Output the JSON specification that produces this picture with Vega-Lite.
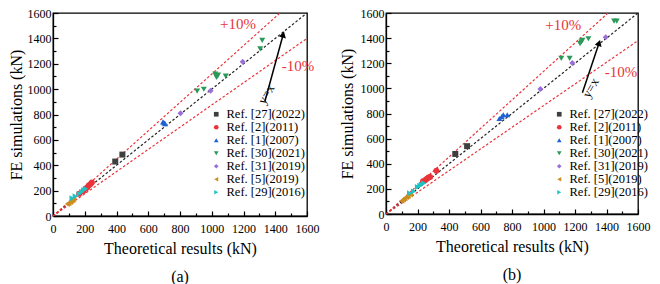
{
  "$schema": "https://vega.github.io/schema/vega-lite/v6.json",
  "padding": {"left": 7, "top": 6, "right": 3, "bottom": 3},
  "background": "white",
  "datasets": {
    "pts": [
      {"p": "a", "ref": "Ref. [27](2022)", "x": 392, "y": 429},
      {"p": "a", "ref": "Ref. [27](2022)", "x": 437, "y": 484},
      {"p": "a", "ref": "Ref. [2](2011)", "x": 165, "y": 175},
      {"p": "a", "ref": "Ref. [2](2011)", "x": 190, "y": 195},
      {"p": "a", "ref": "Ref. [2](2011)", "x": 205, "y": 215},
      {"p": "a", "ref": "Ref. [2](2011)", "x": 215, "y": 225},
      {"p": "a", "ref": "Ref. [2](2011)", "x": 225, "y": 240},
      {"p": "a", "ref": "Ref. [2](2011)", "x": 235, "y": 250},
      {"p": "a", "ref": "Ref. [2](2011)", "x": 245, "y": 265},
      {"p": "a", "ref": "Ref. [1](2007)", "x": 693, "y": 742},
      {"p": "a", "ref": "Ref. [1](2007)", "x": 700, "y": 735},
      {"p": "a", "ref": "Ref. [1](2007)", "x": 706, "y": 728},
      {"p": "a", "ref": "Ref. [30](2021)", "x": 908, "y": 984},
      {"p": "a", "ref": "Ref. [30](2021)", "x": 950, "y": 999},
      {"p": "a", "ref": "Ref. [30](2021)", "x": 1022, "y": 1118},
      {"p": "a", "ref": "Ref. [30](2021)", "x": 1031, "y": 1093},
      {"p": "a", "ref": "Ref. [30](2021)", "x": 1026, "y": 1105},
      {"p": "a", "ref": "Ref. [30](2021)", "x": 1040, "y": 1110},
      {"p": "a", "ref": "Ref. [30](2021)", "x": 1088, "y": 1103},
      {"p": "a", "ref": "Ref. [30](2021)", "x": 1305, "y": 1318},
      {"p": "a", "ref": "Ref. [30](2021)", "x": 1318, "y": 1385},
      {"p": "a", "ref": "Ref. [31](2019)", "x": 803, "y": 809},
      {"p": "a", "ref": "Ref. [31](2019)", "x": 993, "y": 987},
      {"p": "a", "ref": "Ref. [31](2019)", "x": 1195, "y": 1215},
      {"p": "a", "ref": "Ref. [5](2019)", "x": 90, "y": 95},
      {"p": "a", "ref": "Ref. [5](2019)", "x": 100, "y": 100},
      {"p": "a", "ref": "Ref. [5](2019)", "x": 110, "y": 110},
      {"p": "a", "ref": "Ref. [5](2019)", "x": 115, "y": 120},
      {"p": "a", "ref": "Ref. [5](2019)", "x": 125, "y": 125},
      {"p": "a", "ref": "Ref. [5](2019)", "x": 130, "y": 135},
      {"p": "a", "ref": "Ref. [29](2016)", "x": 120, "y": 140},
      {"p": "a", "ref": "Ref. [29](2016)", "x": 140, "y": 155},
      {"p": "a", "ref": "Ref. [29](2016)", "x": 165, "y": 175},
      {"p": "a", "ref": "Ref. [29](2016)", "x": 180, "y": 190},
      {"p": "a", "ref": "Ref. [29](2016)", "x": 195, "y": 205},
      {"p": "a", "ref": "Ref. [29](2016)", "x": 205, "y": 215},
      {"p": "b", "ref": "Ref. [27](2022)", "x": 440, "y": 478},
      {"p": "b", "ref": "Ref. [27](2022)", "x": 515, "y": 540},
      {"p": "b", "ref": "Ref. [2](2011)", "x": 235, "y": 260},
      {"p": "b", "ref": "Ref. [2](2011)", "x": 250, "y": 270},
      {"p": "b", "ref": "Ref. [2](2011)", "x": 260, "y": 280},
      {"p": "b", "ref": "Ref. [2](2011)", "x": 270, "y": 290},
      {"p": "b", "ref": "Ref. [2](2011)", "x": 280, "y": 295},
      {"p": "b", "ref": "Ref. [2](2011)", "x": 320, "y": 345},
      {"p": "b", "ref": "Ref. [1](2007)", "x": 720, "y": 760},
      {"p": "b", "ref": "Ref. [1](2007)", "x": 735, "y": 775},
      {"p": "b", "ref": "Ref. [1](2007)", "x": 745, "y": 790},
      {"p": "b", "ref": "Ref. [1](2007)", "x": 770, "y": 790},
      {"p": "b", "ref": "Ref. [30](2021)", "x": 1113, "y": 1239},
      {"p": "b", "ref": "Ref. [30](2021)", "x": 1166, "y": 1239},
      {"p": "b", "ref": "Ref. [30](2021)", "x": 1232, "y": 1356},
      {"p": "b", "ref": "Ref. [30](2021)", "x": 1240, "y": 1370},
      {"p": "b", "ref": "Ref. [30](2021)", "x": 1247, "y": 1382},
      {"p": "b", "ref": "Ref. [30](2021)", "x": 1285, "y": 1395},
      {"p": "b", "ref": "Ref. [30](2021)", "x": 1448, "y": 1536},
      {"p": "b", "ref": "Ref. [30](2021)", "x": 1465, "y": 1536},
      {"p": "b", "ref": "Ref. [31](2019)", "x": 980, "y": 995},
      {"p": "b", "ref": "Ref. [31](2019)", "x": 1183, "y": 1202},
      {"p": "b", "ref": "Ref. [31](2019)", "x": 1395, "y": 1406},
      {"p": "b", "ref": "Ref. [5](2019)", "x": 100, "y": 105},
      {"p": "b", "ref": "Ref. [5](2019)", "x": 110, "y": 115},
      {"p": "b", "ref": "Ref. [5](2019)", "x": 120, "y": 125},
      {"p": "b", "ref": "Ref. [5](2019)", "x": 130, "y": 135},
      {"p": "b", "ref": "Ref. [5](2019)", "x": 140, "y": 145},
      {"p": "b", "ref": "Ref. [5](2019)", "x": 155, "y": 155},
      {"p": "b", "ref": "Ref. [29](2016)", "x": 150, "y": 165},
      {"p": "b", "ref": "Ref. [29](2016)", "x": 175, "y": 180},
      {"p": "b", "ref": "Ref. [29](2016)", "x": 200, "y": 215},
      {"p": "b", "ref": "Ref. [29](2016)", "x": 215, "y": 225},
      {"p": "b", "ref": "Ref. [29](2016)", "x": 225, "y": 235},
      {"p": "b", "ref": "Ref. [29](2016)", "x": 240, "y": 245}
    ],
    "lines": [
      {"p": "a", "k": "eq", "x": 0, "y": 0}, {"p": "a", "k": "eq", "x": 1600, "y": 1600},
      {"p": "a", "k": "up", "x": 0, "y": 0}, {"p": "a", "k": "up", "x": 1430, "y": 1600},
      {"p": "a", "k": "lo", "x": 0, "y": 0}, {"p": "a", "k": "lo", "x": 1600, "y": 1400},
      {"p": "b", "k": "eq", "x": 0, "y": 0}, {"p": "b", "k": "eq", "x": 1600, "y": 1600},
      {"p": "b", "k": "up", "x": 0, "y": 0}, {"p": "b", "k": "up", "x": 1410, "y": 1600},
      {"p": "b", "k": "lo", "x": 0, "y": 0}, {"p": "b", "k": "lo", "x": 1600, "y": 1380}
    ],
    "notes": [
      {"p": "a", "t": "+10%", "x": 1166, "y": 1511},
      {"p": "a", "t": "-10%", "x": 1543, "y": 1180},
      {"p": "b", "t": "+10%", "x": 1126, "y": 1507},
      {"p": "b", "t": "-10%", "x": 1492, "y": 1133}
    ],
    "yx": [
      {"p": "a", "t": "y=x", "x": 1344, "y": 959},
      {"p": "b", "t": "y=x", "x": 1300, "y": 1003}
    ],
    "arrows": [
      {"p": "a", "x": 1335, "y": 905, "ex": 1450, "ey": 1430},
      {"p": "b", "x": 1247, "y": 966, "ex": 1353, "ey": 1361}
    ],
    "heads": [
      {"p": "a", "x": 1450, "y": 1430},
      {"p": "b", "x": 1353, "y": 1361}
    ]
  },
  "config": {
    "font": "Liberation Serif",
    "view": {"stroke": "black", "strokeWidth": 1.3},
    "axis": {
      "domainColor": "black", "domainWidth": 1.3, "tickColor": "black", "tickWidth": 1.2,
      "labelColor": "black", "titleColor": "black", "labelFont": "Liberation Serif", "titleFont": "Liberation Serif",
      "labelFontSize": 12, "titleFontSize": 16, "titleFontWeight": "normal", "grid": false,
      "labelOverlap": false, "labelFlush": false
    },
    "legend": {"labelFont": "Liberation Serif", "labelFontSize": 12.5, "labelColor": "black"},
    "title": {"font": "Liberation Serif", "fontSize": 16, "fontWeight": "normal", "color": "black"}
  },
  "resolve": {"scale": {"color": "independent", "shape": "independent"}, "legend": {"color": "independent", "shape": "independent"}},
  "spacing": 18,
  "hconcat": [
    {
      "width": 254, "height": 203,
      "title": {"text": "(a)", "orient": "bottom", "offset": 13},
      "encoding": {
        "x": {"field": "x", "type": "quantitative", "scale": {"domain": [0, 1600], "nice": false},
              "axis": {"title": "Theoretical results (kN)", "values": [0,100,200,300,400,500,600,700,800,900,1000,1100,1200,1300,1400,1500,1600],
                       "labelExpr": "datum.value % 200 === 0 ? datum.label : ''", "format": "d", "labelOverlap": false,
                       "tickSize": {"condition": {"test": "datum.value % 200 === 0", "value": -5}, "value": -3},
                       "labelPadding": 12, "titlePadding": 4}},
        "y": {"field": "y", "type": "quantitative", "scale": {"domain": [0, 1600], "nice": false},
              "axis": {"title": "FE simulations (kN)", "values": [0,100,200,300,400,500,600,700,800,900,1000,1100,1200,1300,1400,1500,1600],
                       "labelExpr": "datum.value % 200 === 0 ? datum.label : ''", "format": "d", "labelOverlap": false,
                       "tickSize": {"condition": {"test": "datum.value % 200 === 0", "value": -5}, "value": -3},
                       "labelPadding": 7, "titlePadding": 3}}
      },
      "layer": [
        {"data": {"name": "lines"}, "transform": [{"filter": "datum.p === 'a' && datum.k === 'eq'"}],
         "mark": {"type": "line", "color": "#222222", "strokeDash": [2.5, 2], "strokeWidth": 1.2}},
        {"data": {"name": "lines"}, "transform": [{"filter": "datum.p === 'a' && datum.k !== 'eq'"}],
         "mark": {"type": "line", "color": "#e8343a", "strokeDash": [2.5, 2], "strokeWidth": 1.2},
         "encoding": {"detail": {"field": "k"}}},
        {"data": {"name": "pts"}, "transform": [{"filter": "datum.p === 'a'"}],
         "mark": {"type": "point", "filled": true, "opacity": 1, "size": 36},
         "encoding": {
           "color": {"field": "ref", "type": "nominal",
             "scale": {"domain": ["Ref. [27](2022)", "Ref. [2](2011)", "Ref. [1](2007)", "Ref. [30](2021)", "Ref. [31](2019)", "Ref. [5](2019)", "Ref. [29](2016)"],
                       "range": ["#3f3f3f", "#e8343a", "#1f62d4", "#2b9a58", "#9a6fd8", "#c98f1f", "#1ec4c4"]},
             "legend": {"title": null, "orient": "none", "legendX": 157, "legendY": 95, "padding": 0, "rowPadding": 0, "symbolSize": 22, "labelOffset": 4}},
           "shape": {"field": "ref", "type": "nominal",
             "scale": {"domain": ["Ref. [27](2022)", "Ref. [2](2011)", "Ref. [1](2007)", "Ref. [30](2021)", "Ref. [31](2019)", "Ref. [5](2019)", "Ref. [29](2016)"],
                       "range": ["square", "circle", "triangle-up", "triangle-down", "diamond", "triangle-left", "triangle-right"]},
             "legend": {"title": null, "orient": "none", "legendX": 157, "legendY": 95, "padding": 0, "rowPadding": 0, "symbolSize": 22, "labelOffset": 4}}
         }},
        {"data": {"name": "notes"}, "transform": [{"filter": "datum.p === 'a'"}],
         "mark": {"type": "text", "color": "#e8343a", "fontSize": 15},
         "encoding": {"text": {"field": "t"}}},
        {"data": {"name": "yx"}, "transform": [{"filter": "datum.p === 'a'"}],
         "mark": {"type": "text", "color": "black", "fontSize": 13, "angle": 300},
         "encoding": {"text": {"field": "t"}}},
        {"data": {"name": "arrows"}, "transform": [{"filter": "datum.p === 'a'"}],
         "mark": {"type": "rule", "color": "black", "strokeWidth": 1.5},
         "encoding": {"x2": {"field": "ex"}, "y2": {"field": "ey"}}},
        {"data": {"name": "heads"}, "transform": [{"filter": "datum.p === 'a'"}],
         "mark": {"type": "point", "shape": "triangle-up", "filled": true, "color": "black", "opacity": 1, "size": 50, "angle": 15}}
      ]
    },
    {
      "width": 252, "height": 201,
      "title": {"text": "(b)", "orient": "bottom", "offset": 13},
      "encoding": {
        "x": {"field": "x", "type": "quantitative", "scale": {"domain": [0, 1600], "nice": false},
              "axis": {"title": "Theoretical results (kN)", "values": [0,100,200,300,400,500,600,700,800,900,1000,1100,1200,1300,1400,1500,1600],
                       "labelExpr": "datum.value % 200 === 0 ? datum.label : ''", "format": "d", "labelOverlap": false,
                       "tickSize": {"condition": {"test": "datum.value % 200 === 0", "value": -5}, "value": -3},
                       "labelPadding": 12, "titlePadding": 4}},
        "y": {"field": "y", "type": "quantitative", "scale": {"domain": [0, 1600], "nice": false},
              "axis": {"title": "FE simulations (kN)", "values": [0,100,200,300,400,500,600,700,800,900,1000,1100,1200,1300,1400,1500,1600],
                       "labelExpr": "datum.value % 200 === 0 ? datum.label : ''", "format": "d", "labelOverlap": false,
                       "tickSize": {"condition": {"test": "datum.value % 200 === 0", "value": -5}, "value": -3},
                       "labelPadding": 7, "titlePadding": 5}}
      },
      "layer": [
        {"data": {"name": "lines"}, "transform": [{"filter": "datum.p === 'b' && datum.k === 'eq'"}],
         "mark": {"type": "line", "color": "#222222", "strokeDash": [2.5, 2], "strokeWidth": 1.2}},
        {"data": {"name": "lines"}, "transform": [{"filter": "datum.p === 'b' && datum.k !== 'eq'"}],
         "mark": {"type": "line", "color": "#e8343a", "strokeDash": [2.5, 2], "strokeWidth": 1.2},
         "encoding": {"detail": {"field": "k"}}},
        {"data": {"name": "pts"}, "transform": [{"filter": "datum.p === 'b'"}],
         "mark": {"type": "point", "filled": true, "opacity": 1, "size": 36},
         "encoding": {
           "color": {"field": "ref", "type": "nominal",
             "scale": {"domain": ["Ref. [27](2022)", "Ref. [2](2011)", "Ref. [1](2007)", "Ref. [30](2021)", "Ref. [31](2019)", "Ref. [5](2019)", "Ref. [29](2016)"],
                       "range": ["#3f3f3f", "#e8343a", "#1f62d4", "#2b9a58", "#9a6fd8", "#c98f1f", "#1ec4c4"]},
             "legend": {"title": null, "orient": "none", "legendX": 167, "legendY": 95, "padding": 0, "rowPadding": 0, "symbolSize": 22, "labelOffset": 4}},
           "shape": {"field": "ref", "type": "nominal",
             "scale": {"domain": ["Ref. [27](2022)", "Ref. [2](2011)", "Ref. [1](2007)", "Ref. [30](2021)", "Ref. [31](2019)", "Ref. [5](2019)", "Ref. [29](2016)"],
                       "range": ["square", "circle", "triangle-up", "triangle-down", "diamond", "triangle-left", "triangle-right"]},
             "legend": {"title": null, "orient": "none", "legendX": 167, "legendY": 95, "padding": 0, "rowPadding": 0, "symbolSize": 22, "labelOffset": 4}}
         }},
        {"data": {"name": "notes"}, "transform": [{"filter": "datum.p === 'b'"}],
         "mark": {"type": "text", "color": "#e8343a", "fontSize": 15},
         "encoding": {"text": {"field": "t"}}},
        {"data": {"name": "yx"}, "transform": [{"filter": "datum.p === 'b'"}],
         "mark": {"type": "text", "color": "black", "fontSize": 13, "angle": 300},
         "encoding": {"text": {"field": "t"}}},
        {"data": {"name": "arrows"}, "transform": [{"filter": "datum.p === 'b'"}],
         "mark": {"type": "rule", "color": "black", "strokeWidth": 1.5},
         "encoding": {"x2": {"field": "ex"}, "y2": {"field": "ey"}}},
        {"data": {"name": "heads"}, "transform": [{"filter": "datum.p === 'b'"}],
         "mark": {"type": "point", "shape": "triangle-up", "filled": true, "color": "black", "opacity": 1, "size": 50, "angle": 18}}
      ]
    }
  ]
}
